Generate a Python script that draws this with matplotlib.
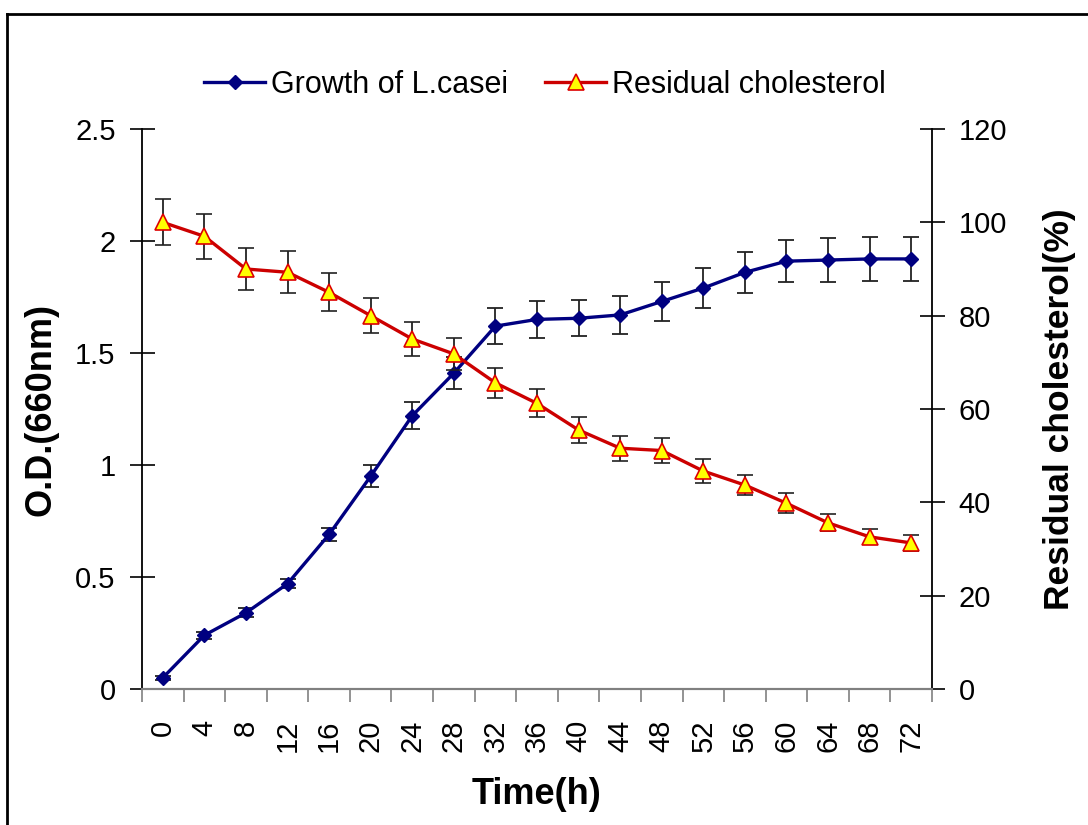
import numpy as np
import matplotlib.pyplot as plt
from matplotlib.lines import Line2D

plt.rcParams['font.family'] = ['Liberation Sans', 'DejaVu Sans']

# Sampling times (h)
hours = [0, 4, 8, 12, 16, 20, 24, 28, 32, 36, 40, 44, 48, 52, 56, 60, 64, 68, 72]

# Growth of L.casei, O.D. at 660 nm
od = [0.05, 0.24, 0.34, 0.47, 0.69, 0.95, 1.22, 1.41, 1.62, 1.65, 1.655, 1.67,
      1.73, 1.79, 1.86, 1.91, 1.915, 1.92, 1.92]
od_err = [0.01, 0.015, 0.02, 0.02, 0.03, 0.048, 0.06, 0.07, 0.08, 0.083, 0.08,
          0.084, 0.087, 0.09, 0.093, 0.093, 0.097, 0.097, 0.097]

# Residual cholesterol (%)
chol = [100, 97, 90, 89.3, 85, 80, 75, 71.8, 65.6, 61.2, 55.5, 51.6, 51.1,
        46.7, 43.7, 39.8, 35.6, 32.6, 31.3]
chol_err = [4.9, 4.8, 4.5, 4.5, 4.1, 3.8, 3.6, 3.4, 3.2, 3.0, 2.8, 2.7, 2.7,
            2.5, 2.2, 2.1, 1.8, 1.6, 1.7]

W, H = 1088, 825
fig = plt.figure(figsize=(W / 100, H / 100), dpi=100)
ax = fig.add_axes([142 / W, 1 - 689 / H, (932 - 142) / W, (689 - 129) / H])
ax2 = ax.twinx()

x = np.arange(len(hours))

blue = dict(color='#000080', lw=2.4, marker='D', ms=7.5, mfc='#000080', mec='#000080')
red = dict(color='#cc0000', lw=2.4, marker='^', ms=11, mfc='#ffff00', mec='#dd0000', mew=1.2)

ax.errorbar(x, od, yerr=od_err, ecolor='#222222', elinewidth=1.3,
            capsize=6, capthick=1.3, **blue)
ax2.errorbar(x, chol, yerr=chol_err, ecolor='#222222', elinewidth=1.3,
             capsize=6, capthick=1.3, **red)

ax.set_xlim(-0.5, len(hours) - 0.5)
ax.set_ylim(0, 2.5)
ax2.set_ylim(0, 120)

ax.set_yticks([0, 0.5, 1, 1.5, 2, 2.5])
ax.set_yticklabels(['0', '0.5', '1', '1.5', '2', '2.5'])
ax2.set_yticks(range(0, 121, 20))

ax.set_xticks(x)
ax.set_xticklabels([str(h) for h in hours], rotation=90, va='top', ha='center')
ax.set_xticks(np.arange(-0.5, len(hours)), minor=True)
ax.tick_params(axis='x', which='major', length=0, pad=22, labelsize=21)
ax.tick_params(axis='x', which='minor', length=9, width=1.2, color='#808080',
               direction='out')

ax.tick_params(axis='y', direction='inout', length=18, width=1.2, pad=10,
               labelsize=21)
ax2.tick_params(axis='y', direction='inout', length=18, width=1.2, pad=10,
                labelsize=21)

for a in (ax, ax2):
    a.spines['top'].set_visible(False)
    a.spines['bottom'].set_color('#808080')
    a.spines['bottom'].set_linewidth(1.5)
    a.spines['left'].set_linewidth(1.3)
    a.spines['right'].set_linewidth(1.3)
ax.spines['right'].set_visible(False)
ax2.spines['left'].set_visible(False)

ax.set_xlabel('Time(h)', fontsize=26, fontweight='bold', labelpad=18)
ax.set_ylabel('O.D.(660nm)', fontsize=26, fontweight='bold', labelpad=12)
ax2.set_ylabel('Residual cholesterol(%)', fontsize=25.5, fontweight='bold',
               labelpad=26)

handles = [Line2D([], [], **blue), Line2D([], [], **red)]
fig.legend(handles, ['Growth of L.casei', 'Residual cholesterol'], loc='center',
           bbox_to_anchor=(545 / W, 1 - 85 / H), ncol=2, frameon=False,
           fontsize=22, handlelength=2, handletextpad=0.2, columnspacing=1.2)

# outer frame
fig.add_artist(Line2D([7 / W, 7 / W], [0, 1 - 14 / H], transform=fig.transFigure,
                      color='black', lw=2))
fig.add_artist(Line2D([7 / W, 1], [1 - 14 / H, 1 - 14 / H],
                      transform=fig.transFigure, color='black', lw=2))

fig.savefig('out.png', dpi=100)
